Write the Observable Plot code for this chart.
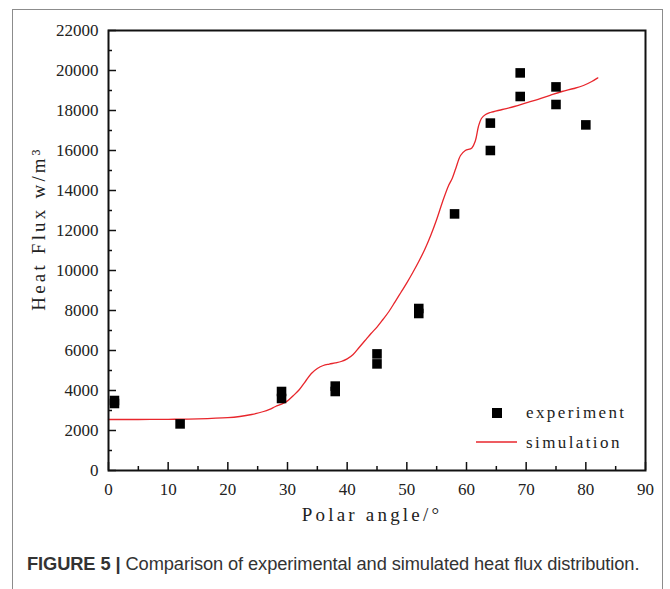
<!DOCTYPE html>
<html>
<head>
<meta charset="utf-8">
<script src="https://cdn.jsdelivr.net/npm/d3@7"></script>
<script src="https://cdn.jsdelivr.net/npm/@observablehq/plot@0.6"></script>
<style>
  html, body { margin: 0; padding: 0; background: #fff; }
  #wrap { position: relative; width: 670px; height: 589px; overflow: hidden; }
  #border { position: absolute; left: 12px; top: 9px; width: 651px; height: 600px;
            border: 1.5px solid #8c8c8c; border-bottom: none; box-sizing: border-box; }
  #chart { position: absolute; left: 0; top: 0; }
  #legend { position: absolute; left: 470px; top: 398px; font-family: "Liberation Serif", "Times New Roman", serif;
            font-size: 17px; letter-spacing: 2.4px; color: #222; }
  #legend .row { display: flex; align-items: center; height: 30px; }
  #caption { position: absolute; left: 27px; top: 553px; font-family: "Liberation Sans", Arial, sans-serif;
             font-size: 18.3px; color: #333; white-space: nowrap; letter-spacing: -0.1px; }
  #caption b { color: #333; }
  #chart svg text { font-family: "Liberation Serif", "Times New Roman", serif; }
  #chart svg .lbl text { letter-spacing: 3.2px; }
</style>
</head>
<body>
<div id="wrap">
  <div id="border"></div>
  <div id="chart"></div>
  <div id="legend">
    <div class="row"><svg width="56" height="30"><rect x="22" y="10" width="10" height="10" fill="#000"/></svg><span>experiment</span></div>
    <div class="row"><svg width="56" height="30"><line x1="6" y1="14" x2="47" y2="14" stroke="#e8262c" stroke-width="1.4"/></svg><span>simulation</span></div>
  </div>
  <div id="caption"><b>FIGURE 5 |</b> Comparison of experimental and simulated heat flux distribution.</div>
</div>
<script>
// Experimental data (polar angle in degrees, heat flux in W/m^3)
const expAngle = [1, 1, 12, 29, 29, 38, 38, 45, 45, 52, 52, 58, 64, 64, 69, 69, 75, 75, 80];
const expFlux  = [3350, 3500, 2330, 3600, 3950, 3950, 4220, 5330, 5830, 7850, 8100, 12830, 16000, 17370, 18700, 19880, 18300, 19180, 17280];

// Simulation curve
const simAngle = [0, 5, 10, 15, 20, 22, 24, 26, 27, 28, 29, 30, 31, 32, 33, 34, 35, 36, 37, 38, 39, 40, 41, 42, 43, 44, 45, 46, 47, 48, 49, 50, 51, 52, 53, 54, 55, 56, 57, 57.6, 58.2, 59, 59.8, 60.9, 61.5, 62, 62.5, 63.2, 64, 66, 68, 70, 72, 74, 76, 78, 79.6, 81, 82];
const simFlux  = [2550, 2550, 2560, 2580, 2640, 2700, 2800, 2950, 3060, 3200, 3320, 3480, 3750, 4050, 4450, 4850, 5100, 5250, 5320, 5380, 5450, 5580, 5800, 6150, 6500, 6850, 7170, 7550, 7950, 8420, 8900, 9380, 9900, 10450, 11050, 11750, 12550, 13450, 14250, 14600, 15100, 15750, 16000, 16130, 16500, 17200, 17600, 17800, 17900, 18050, 18200, 18380, 18560, 18760, 18950, 19100, 19250, 19450, 19630];

// Axis ticks
const xMajor = d3.range(0, 91, 10);
const xMinor = d3.range(5, 90, 10);
const yMajor = d3.range(0, 22001, 2000);
const yMinor = d3.range(1000, 22000, 2000);

const xLabel = "Polar angle/°";
const yLabel = "Heat Flux w/m³";

const expData = expAngle.map((a, i) => ({a, f: expFlux[i]}));
const simData = simAngle.map((a, i) => ({a, f: simFlux[i]}));

const chart = Plot.plot({
  width: 670,
  height: 540,
  marginLeft: 108,
  marginRight: 25,
  marginTop: 30,
  marginBottom: 70,
  x: {domain: [0, 90]},
  y: {domain: [0, 22000]},
  style: {background: "transparent", color: "#222"},
  marks: [
    Plot.line(simData, {x: "a", y: "f", stroke: "#e8262c", strokeWidth: 1.3, curve: "catmull-rom"}),
    Plot.dot(expData, {x: "a", y: "f", symbol: "square", r: 5.4, fill: "#000", stroke: "none"}),
    // x axis ticks (inward)
    Plot.axisX({ticks: xMajor, tickSize: -8, text: null, label: null, strokeWidth: 1.5, stroke: "#111"}),
    Plot.axisX({ticks: xMinor, tickSize: -4, text: null, label: null, strokeWidth: 1.5, stroke: "#111"}),
    Plot.axisX({ticks: xMajor, tickSize: 0, tickPadding: 12, label: null, tickFormat: d => String(d),
                fontSize: 17, fill: "#222"}),
    // y axis ticks (inward)
    Plot.axisY({ticks: yMajor, tickSize: -8, text: null, label: null, strokeWidth: 1.5, stroke: "#111"}),
    Plot.axisY({ticks: yMinor, tickSize: -4, text: null, label: null, strokeWidth: 1.5, stroke: "#111"}),
    Plot.axisY({ticks: yMajor, tickSize: 0, tickPadding: 10, label: null, tickFormat: d => String(d),
                fontSize: 17, fill: "#222"}),
    Plot.frame({stroke: "#111", strokeWidth: 2}),
    // axis titles
    Plot.text([xLabel], {text: d => d, frameAnchor: "bottom", dx: -5, dy: 50, fontSize: 19, fill: "#222", className: "lbl"}),
    Plot.text([yLabel], {text: d => d, frameAnchor: "left", textAnchor: "middle", dx: -70, dy: -22, rotate: -90, fontSize: 19, fill: "#222", className: "lbl"})
  ]
});
document.getElementById("chart").appendChild(chart);
</script>
</body>
</html>
